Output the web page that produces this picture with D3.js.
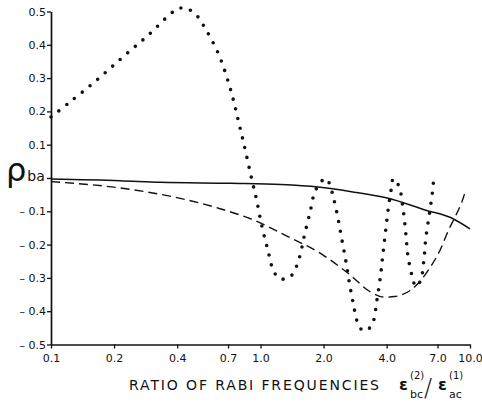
<html>
<head>
<script src="https://d3js.org/d3.v7.min.js"></script>
<style>
    body { margin: 0; background: #fff; }
    text { font-family: "DejaVu Sans", sans-serif; fill: #111; }
    .axis .domain { stroke: #111; stroke-width: 1.7; }
    .axis line { stroke: #111; stroke-width: 1.3; }
</style>
</head>
<body>
<svg id="chart" width="482" height="402"></svg>
<script>
// tick values
const xTicks = [0.1, 0.2, 0.4, 0.7, 1.0, 2.0, 4.0, 7.0, 10.0];
const yTicks = [0.5, 0.4, 0.3, 0.2, 0.1, 0, -0.1, -0.2, -0.3, -0.4, -0.5];

// dotted curve
const dotX = [0.1, 0.122, 0.164, 0.221, 0.295, 0.389, 0.431, 0.489, 0.554, 0.628, 0.689, 0.741, 0.783, 0.833, 0.904,
              0.959, 1.017, 1.083, 1.152, 1.231, 1.345, 1.427, 1.535, 1.623, 1.728, 1.806, 1.893, 2.039, 2.124, 2.227,
              2.335, 2.433, 2.551, 2.658, 2.778, 2.903, 3.092, 3.325, 3.464, 3.593, 3.73, 3.826, 3.942, 4.075, 4.212,
              4.306, 4.581, 4.772, 4.916, 5.042, 5.155, 5.311, 5.508, 5.801, 6.017, 6.152, 6.408, 6.624, 6.698];
const dotY = [0.183, 0.226, 0.292, 0.364, 0.432, 0.502, 0.511, 0.492, 0.441, 0.375, 0.305, 0.236, 0.173, 0.102, 0.002,
              -0.067, -0.147, -0.215, -0.278, -0.302, -0.301, -0.288, -0.238, -0.170, -0.100, -0.046, -0.022, -0.001, -0.014, -0.058,
              -0.116, -0.177, -0.247, -0.316, -0.380, -0.433, -0.459, -0.450, -0.429, -0.368, -0.299, -0.238, -0.167, -0.091, -0.032,
              -0.002, -0.025, -0.084, -0.154, -0.228, -0.264, -0.298, -0.326, -0.309, -0.249, -0.181, -0.106, -0.041, -0.009];

// solid curve
const solidX = [0.1, 0.214, 0.333, 0.722, 1.254, 1.881, 2.716, 4.075, 6.10, 8.35, 10.0];
const solidY = [-0.003, -0.008, -0.013, -0.016, -0.0195, -0.027, -0.041, -0.061, -0.096, -0.123, -0.153];

// dashed curve
const dashX = [0.1, 0.214, 0.448, 0.647, 0.934, 1.351, 1.951, 2.619, 3.388, 3.926, 4.369, 5.465, 6.337, 7.203, 7.904, 8.502, 9.153, 9.567];
const dashY = [-0.011, -0.030, -0.066, -0.093, -0.127, -0.176, -0.228, -0.286, -0.344, -0.358, -0.356, -0.326, -0.276, -0.216, -0.156, -0.116, -0.071, -0.034];

const svg = d3.select("svg#chart");
const x = d3.scaleLog().domain([0.1, 10]).range([51, 470]);
const y = d3.scaleLinear().domain([-0.5, 0.5]).range([344.5, 11.5]);

const zip = (xs, ys) => xs.map((v, i) => [v, ys[i]]);

// axes
const fmtX = d3.format(".1f");
svg.append("g")
    .attr("class", "axis")
    .attr("transform", `translate(0,${y(-0.5)})`)
    .call(d3.axisBottom(x).tickValues(xTicks).tickFormat(fmtX).tickSize(4).tickSizeOuter(0))
    .call(g => g.selectAll("text").attr("dy", "0.95em").style("font-size", "11px"));

svg.append("g")
    .attr("class", "axis")
    .attr("transform", `translate(${x(0.1)},0)`)
    .call(d3.axisLeft(y).tickValues(yTicks).tickSize(4).tickSizeOuter(0)
        .tickFormat(d => d == 0 ? "" : (d < 0 ? "\u2013 " + d3.format(".1f")(-d) : d3.format(".1f")(d))))
    .call(g => g.selectAll("text").attr("x", -5).style("font-size", "11px"));

// curves
const line = d3.line().x(d => x(d[0])).y(d => y(d[1]));

svg.append("path")
    .datum(zip(solidX, solidY))
    .attr("fill", "none")
    .attr("stroke", "#111")
    .attr("stroke-width", 1.5)
    .attr("d", line.curve(d3.curveMonotoneX));

svg.append("path")
    .datum(zip(dashX, dashY))
    .attr("fill", "none")
    .attr("stroke", "#111")
    .attr("stroke-width", 1.4)
    .attr("stroke-dasharray", "9,5")
    .attr("d", line.curve(d3.curveMonotoneX));

svg.append("path")
    .datum(zip(dotX, dotY))
    .attr("fill", "none")
    .attr("stroke", "#111")
    .attr("stroke-width", 3.6)
    .attr("stroke-linecap", "round")
    .attr("stroke-dasharray", "0,10")
    .attr("d", line.curve(d3.curveCatmullRom));

// y label: rho_ba
const yLab = svg.append("text").attr("x", 6).attr("y", 181);
yLab.append("tspan").style("font-size", "32px").text("\u03c1");
yLab.append("tspan").style("font-size", "14px").attr("dx", 1).text("ba");

// x label
svg.append("text")
    .attr("x", 129).attr("y", 390)
    .attr("textLength", 250)
    .style("font-size", "14px")
    .text("RATIO OF RABI FREQUENCIES");

const eps = (x0, sup, sub) => {
    svg.append("text").attr("x", x0).attr("y", 390)
        .style("font-size", "16px").style("font-weight", "bold").text("\u03b5");
    svg.append("text").attr("x", x0 + 11).attr("y", 379)
        .style("font-size", "10px").text(sup);
    svg.append("text").attr("x", x0 + 11).attr("y", 398)
        .style("font-size", "11px").text(sub);
};
eps(399, "(2)", "bc");
eps(438, "(1)", "ac");
svg.append("text").attr("x", 424).attr("y", 396)
    .style("font-size", "24px").style("font-weight", "300").text("/");
</script>
</body>
</html>
